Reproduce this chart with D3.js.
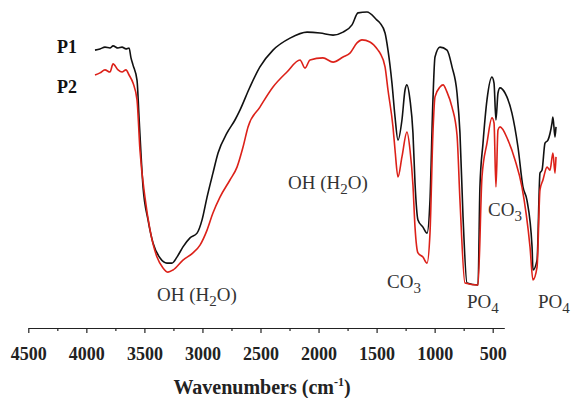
<script src='https://d3js.org/d3.v7.min.js'></script>
<style>body{margin:0;background:#fff;} text{font-family:'Liberation Serif','Times New Roman',serif;}</style>
<svg id='ftir'></svg>
<script>
// wavenumber (cm-1) and transmittance (%)
var wnP1=[4000,3961,3922,3883,3859,3820,3789,3758,3734,3719,3703,3672,3655,3625,3586,3547,3492,3438,3399,3360,3313,3258,3203,3164,3125,3079,3039,2969,2907,2868,2790,2712,2610,2477,2344,2243,2141,2063,1993,1946,1876,1798,1774,1735,1712,1681,1657,1634,1603,1579,1564,1540,1517,1501,1478,1439,1407,1384,1361,1345,1306,1251,1212,1173,1150,1126,1095,1009,994,970,939,900,884,869,853,837,798,744,697,658,627,587,580,548,525,509,486,463,431,424,408,400];
var tP1=[83.3,83.7,84.3,84.0,84.7,84.0,84.3,83.7,84.0,80.7,78.3,73.3,60,37.7,26.7,19,14,12.3,12.3,14.3,17.7,20.7,22.3,26.7,34.3,42.3,49,55.7,60,63.3,71,77.7,83.3,87.3,89.3,89,88.3,89.3,91.7,95.7,96,93.3,92.3,89,83.3,72.3,61,53.3,60,70,71.7,66.7,55.7,39,26.7,24.3,22.3,33.3,66.7,81,84.3,83.3,77.7,69,55.7,27.7,5.7,5,37.7,52.3,66.7,74.3,72.3,60,69,70.7,69,62.3,51,37.7,33.3,17.7,10,13.3,42.3,43.3,52.3,53.3,59,61,54.3,57.7];
var wnP2=[4000,3961,3922,3883,3859,3820,3789,3758,3734,3703,3672,3649,3610,3570,3516,3469,3430,3391,3313,3235,3180,3125,3079,3024,2946,2891,2844,2805,2712,2610,2501,2399,2360,2321,2220,2141,2063,2009,1954,1915,1853,1790,1774,1735,1712,1673,1657,1634,1603,1564,1540,1517,1501,1478,1439,1407,1384,1361,1345,1306,1282,1251,1212,1173,1150,1111,1009,978,939,900,884,869,853,837,775,720,666,603,580,548,525,502,470,447,424,408,400];
var tP2=[75,75.7,76.7,76,78.7,76.7,76,76.7,75,72.3,66.7,50,34.3,23.3,14.3,10.7,9.3,10,13.3,15.7,18.3,23.3,29,34.3,40,44.3,51,57.7,64.3,71,76,80,77.3,80,80.7,79.3,81,82.3,85.7,86.7,86,83.3,82.3,77.7,70,57.7,50,41,47.7,56,50,38.3,24.3,15.7,14.3,12.3,22.3,55.7,67.7,71,71.7,69.3,64.3,55,33.3,5.7,5,41,52.3,60.7,59,37.7,56.7,57.7,53.3,46.7,37.7,17.7,6.7,11,36.7,40,44.3,43.3,49,42.3,47.7];
var majorTicks=[4500,4000,3500,3000,2500,2000,1500,1000,500];
var minorTicks=[4250,3750,3250,2750,2250,1750,1250,750];
var seriesNames=['P1','P2'];

var W=577,H=398;
var svg=d3.select('#ftir').attr('width',W).attr('height',H);
var x=d3.scaleLinear().domain([4500,400]).range([28.3,504.3]);   // printed axis
var xs=d3.scaleLinear().domain([4000,400]).range([95,556]);      // spectra as drawn
var y=d3.scaleLinear().domain([0,100]).range([300,0]);

var line=d3.line().curve(d3.curveMonotoneX)
           .x(function(d){return xs(d[0]);}).y(function(d){return y(d[1]);});
var p1=d3.zip(wnP1,tP1),p2=d3.zip(wnP2,tP2);
svg.append('path').datum(p1).attr('d',line).attr('fill','none')
   .attr('stroke','#111').attr('stroke-width',1.6).attr('stroke-linejoin','round');
svg.append('path').datum(p2).attr('d',line).attr('fill','none')
   .attr('stroke','#dc2119').attr('stroke-width',1.6).attr('stroke-linejoin','round');

// axis
var gx=svg.append('g').attr('transform','translate(0,328)');
gx.call(d3.axisBottom(x).tickValues(majorTicks).tickSizeInner(5).tickSizeOuter(0).tickFormat(d3.format('d')));
gx.call(function(g){g.select('.domain').attr('stroke','#222').attr('stroke-width',1.2);});
gx.selectAll('.tick line').attr('stroke','#222').attr('stroke-width',1.2);
gx.selectAll('.tick text').attr('font-family','Liberation Serif').attr('font-weight','bold')
  .attr('font-size',18).attr('fill','#222').attr('dy',0).attr('y',32);
svg.append('g').attr('transform','translate(0,328)')
   .call(d3.axisBottom(x).tickValues(minorTicks).tickSizeInner(3).tickSizeOuter(0).tickFormat(''))
   .call(function(g){g.select('.domain').remove();g.selectAll('line').attr('stroke','#222').attr('stroke-width',1.2);});

var title=svg.append('text').attr('x',262).attr('y',394).attr('text-anchor','middle')
   .attr('font-weight','bold').attr('font-size',20).attr('fill','#222');
title.append('tspan').text('Wavenumbers (cm');
title.append('tspan').attr('font-size',12).attr('dy',-8).text('-1');
title.append('tspan').attr('dy',8).text(')');

// series names
svg.selectAll('.sname').data(seriesNames).enter().append('text')
   .attr('x',57).attr('y',function(d,i){return [53,93][i];})
   .attr('font-weight','bold').attr('font-size',18).attr('fill','#111').text(function(d){return d;});

// band labels
function label(px,py,main,sub,tail){
  var t=svg.append('text').attr('x',px).attr('y',py).attr('font-size',19).attr('fill','#333');
  t.append('tspan').text(main);
  t.append('tspan').attr('dy',5).attr('font-size',15).text(sub);
  if(tail) t.append('tspan').attr('dy',-5).text(tail);
}
label(157,301,'OH (H','2','O)');
label(288,189,'OH (H','2','O)');
label(387,288,'CO','3');
label(467,308,'PO','4');
label(538,308,'PO','4');
label(488,216,'CO','3');
</script>
